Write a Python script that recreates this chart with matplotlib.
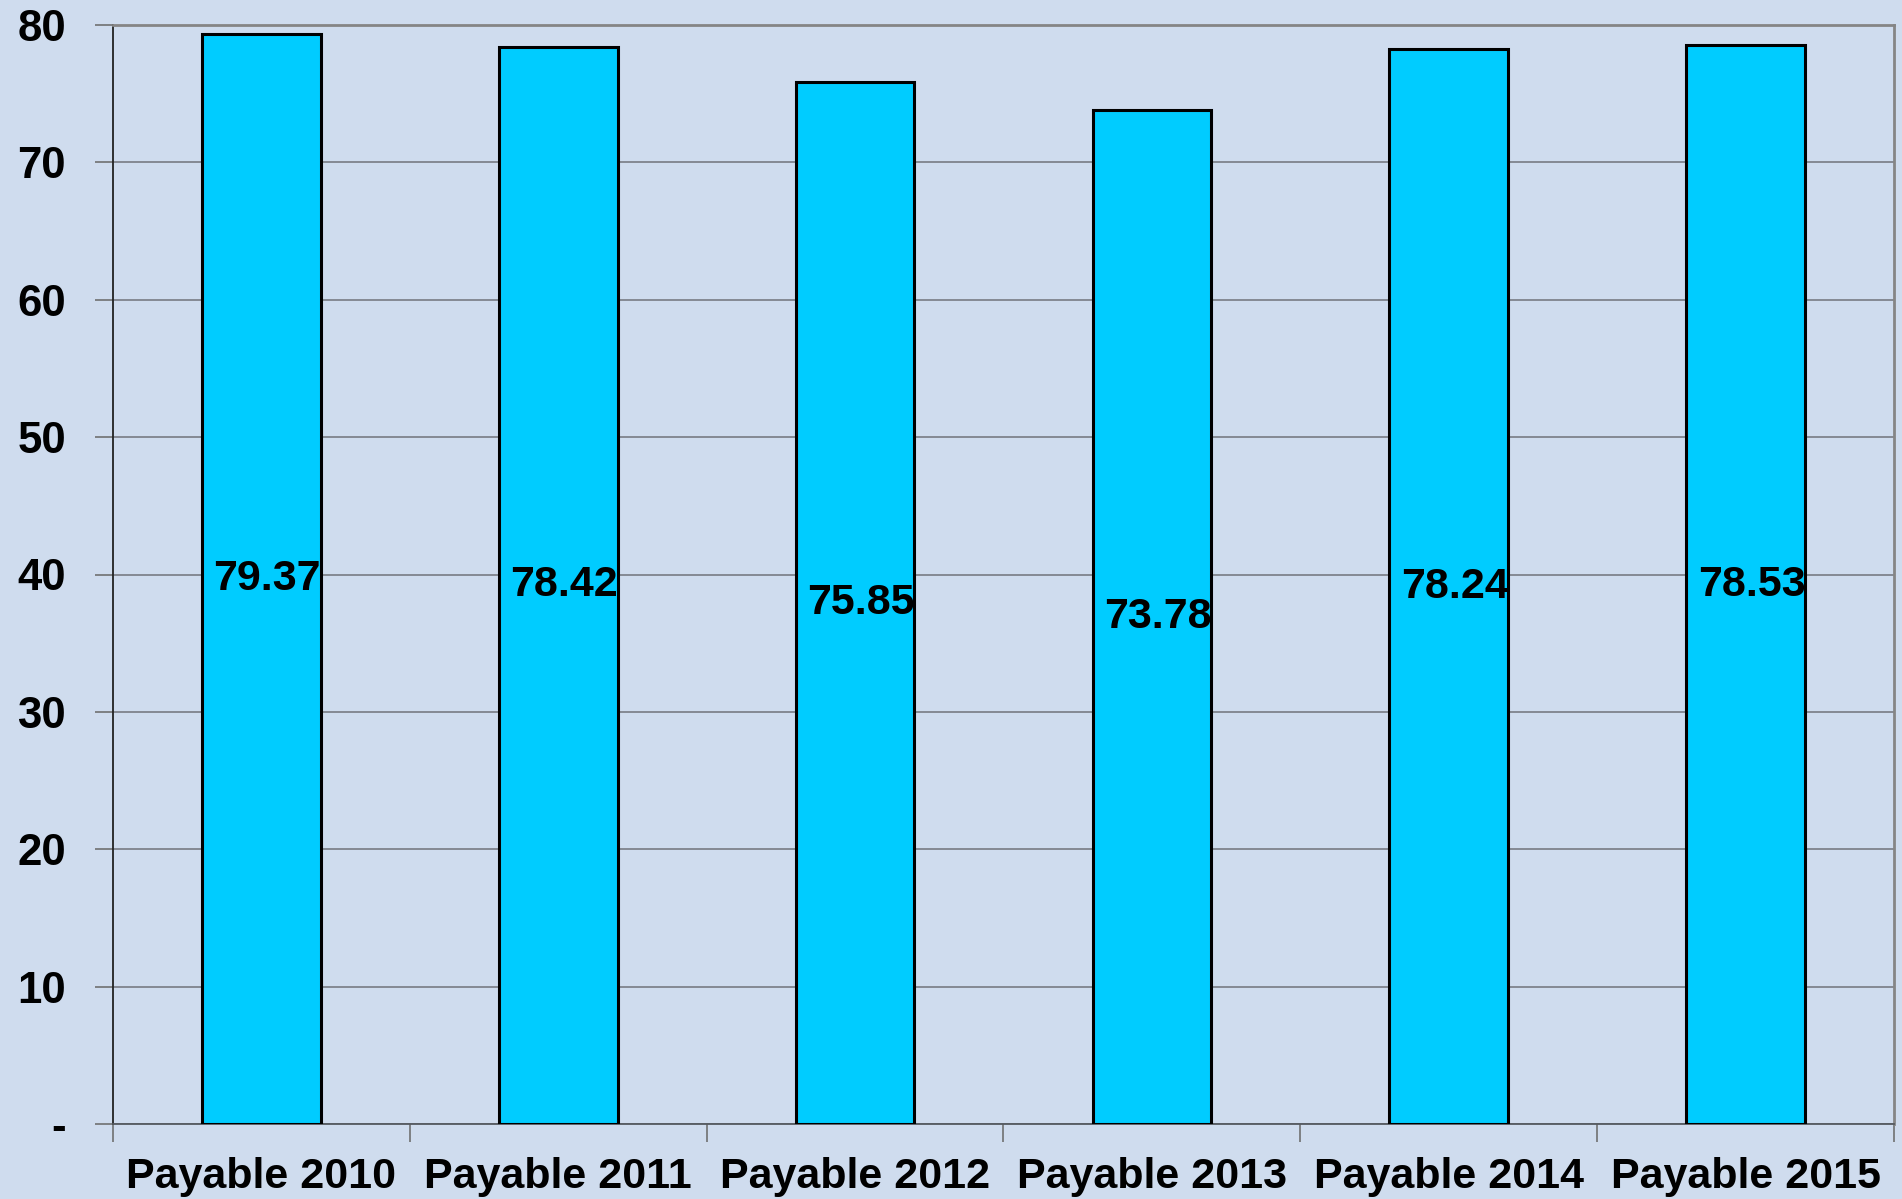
import numpy as np
import matplotlib.pyplot as plt
from matplotlib.ticker import FixedLocator, FuncFormatter

categories = ['Payable 2010', 'Payable 2011', 'Payable 2012',
              'Payable 2013', 'Payable 2014', 'Payable 2015']
values = [79.37, 78.42, 75.85, 73.78, 78.24, 78.53]
yticks = [0, 10, 20, 30, 40, 50, 60, 70, 80]

bg = '#cfdcee'
plt.rcParams['font.family'] = ['Liberation Sans', 'DejaVu Sans']
plt.rcParams['font.weight'] = 'bold'

fig = plt.figure(figsize=(19.02, 11.99), dpi=100, facecolor=bg)
ax = fig.add_axes([113/1902, 1 - 1124/1199, (1894 - 113)/1902, (1124 - 25)/1199])
ax.set_facecolor(bg)

x = np.arange(len(categories))
bars = ax.bar(x, values, width=0.40, color='#00ccff', edgecolor='black',
              linewidth=2.2, zorder=3)

# value labels in the middle of each bar
for xi, v in zip(x, values):
    ax.text(xi + 0.02, v / 2, '%.2f' % v, ha='center', va='center',
            fontsize=31, fontweight='bold', color='black', zorder=4)

ax.set_xlim(-0.5, len(categories) - 0.5)
ax.set_ylim(0, 80)

ax.set_yticks(yticks)
ax.yaxis.set_major_formatter(FuncFormatter(lambda v, p: '-' if v == 0 else '%d' % v))
ax.yaxis.grid(True, color='#7f838c', linewidth=1.3, zorder=1)
ax.tick_params(axis='y', length=13, width=1.2, color='#707070', pad=21,
               labelsize=31.5)

# category labels at centres, tick marks at boundaries
ax.set_xticks(x)
ax.set_xticklabels(categories)
ax.xaxis.set_minor_locator(FixedLocator(np.arange(len(categories) + 1) - 0.5))
ax.tick_params(axis='x', which='major', length=0, pad=24, labelsize=31)
ax.tick_params(axis='x', which='minor', length=13, width=1.2, color='#707070')

for side in ['top', 'right']:
    ax.spines[side].set_color('#858585')
    ax.spines[side].set_linewidth(2)
ax.spines['left'].set_color('#222222')
ax.spines['left'].set_linewidth(1.3)
ax.spines['bottom'].set_color('#555a60')
ax.spines['bottom'].set_linewidth(1.3)

fig.savefig('out.png', dpi=100, facecolor=bg)
